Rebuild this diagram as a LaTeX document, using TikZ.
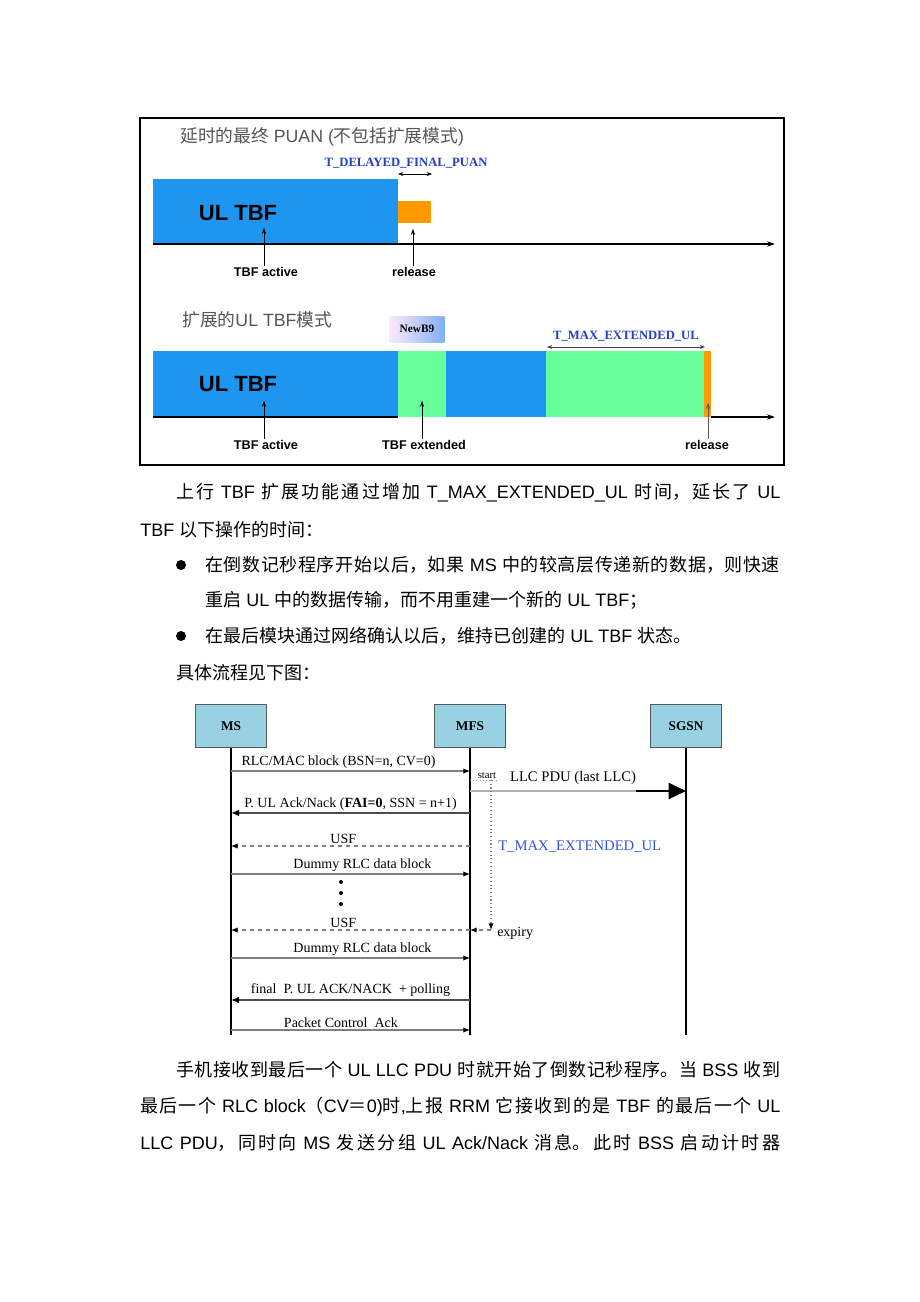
\documentclass[tikz,border=0pt]{standalone}
\usepackage{fontspec}
\setmainfont{Liberation Sans}
\newfontfamily\cjk{Noto Sans CJK SC}
\newfontfamily\rmtimes{Liberation Serif}
\usetikzlibrary{arrows.meta,positioning}

\XeTeXlinebreaklocale "zh"
\XeTeXlinebreakskip=0pt plus 3pt

\definecolor{tbfblue}{RGB}{30,150,240}
\definecolor{extgreen}{RGB}{102,255,153}
\definecolor{relorange}{RGB}{255,153,0}
\definecolor{timerblue}{RGB}{35,65,200}
\definecolor{seqblue}{RGB}{50,85,225}
\definecolor{titlegray}{RGB}{85,85,85}
\definecolor{seqcyan}{RGB}{152,210,226}
\definecolor{tagpink}{RGB}{250,234,250}
\definecolor{tagblue}{RGB}{130,175,245}

\newcommand\fsz[1]{\fontsize{#1}{#1}\selectfont}
\newcommand\fullline[2]{\vbox{\hsize=#1\relax\parindent=0pt\leftskip=0pt\rightskip=0pt
  \parfillskip=0pt\relax\noindent #2\par}}

\begin{document}
\begin{tikzpicture}[x=0.75pt, y=-0.75pt,
  axisline/.style={line width=1.5pt},
  axisarrow/.style={axisline, -{Stealth[length=6pt,width=4pt]}},
  pointer/.style={line width=0.5pt, -{Stealth[length=4.5pt,width=3pt]}},
  timespan/.style={line width=0.6pt, {Stealth[length=4pt,width=3pt]}-{Stealth[length=4pt,width=3pt]}},
  barlabel/.style={font=\bfseries\fsz{9.5}, inner sep=1pt},
  bigtbf/.style={font=\bfseries\fsz{16.5}},
  timerlabel/.style={font=\rmtimes\bfseries\fsz{9.5}, text=timerblue},
  title/.style={font=\fsz{13.3}, text=titlegray, anchor=west, inner sep=0},
  para/.style={anchor=west, inner sep=0, font=\fsz{13.5}},
  seqbox/.style={draw=gray!70!black, fill=seqcyan, minimum width=53pt,
    minimum height=32pt, font=\rmtimes\bfseries\fsz{10}, inner sep=0},
  lifeline/.style={line width=0.8pt},
  msglabel/.style={font=\rmtimes\fsz{10.5}, inner sep=1.5pt},
  msg/.style={draw=gray, line width=0.8pt, -{Latex[length=5pt,width=4pt,color=black]}},
  boldmsg/.style={draw=gray!60!black, line width=1.5pt, -{Latex[length=6pt,width=5pt,color=black]}},
  usfmsg/.style={msg, dashed},
  timer/.style={draw=gray, line width=0.8pt, dotted, -{Latex[length=5pt,width=4pt,color=black]}}]
\useasboundingbox (0,0) rectangle (920,1302);

% Draw frame of the timeline figure
\draw[line width=1.5pt] (140,118) rectangle (784,465);

% Draw delayed final PUAN
\node[title] (puantitle) at (180,137) {{\cjk 延时的最终} PUAN ({\cjk 不包括扩展模式})};
\fill[tbfblue] (153,179) rectangle (398,244);
\fill[relorange] (398,201) rectangle (431,223);
\draw[axisarrow] (153,244) -- (775,244);
\node[bigtbf] (ultbf1) at (238,213) {UL TBF};
\node[timerlabel] (tdelay) at (406,163) {T\_DELAYED\_FINAL\_PUAN};
\draw[timespan] (398,174) -- (432,174);
\node[barlabel] (act1) at (266,272) {TBF active};
\node[barlabel] (rel1) at (414,272) {release};
\draw[pointer] (act1.north -| 264,0) -- ++(0,-38);
\draw[pointer] (rel1.north -| 413,0) -- ++(0,-37);

% Draw extended UL TBF mode
\node[title] (exttitle) at (182,320) {{\cjk 扩展的}UL TBF{\cjk 模式}};
\fill[tbfblue] (153,351) rectangle (398,417);
\fill[extgreen] (398,351) rectangle (446,417);
\fill[tbfblue] (446,351) rectangle (546,417);
\fill[extgreen] (546,351) rectangle (704,417);
\fill[relorange] (704,351) rectangle (711,417);
\draw[axisline] (153,417) -- (398,417);
\draw[axisarrow] (711,417) -- (775,417);
\node[bigtbf] (ultbf2) at (238,384) {UL TBF};
\node[left color=tagpink, right color=tagblue, minimum width=41pt, minimum height=19.5pt,
  font=\rmtimes\bfseries\fsz{8.5}, inner sep=0] (newb9) at (417,329) {NewB9};
\node[timerlabel] (tmax) at (626,336) {T\_MAX\_EXTENDED\_UL};
\draw[timespan, gray!50!black] (547,347) -- (705,347);
\node[barlabel] (act2) at (266,445) {TBF active};
\node[barlabel] (ext2) at (424,445) {TBF extended};
\node[barlabel] (rel2) at (707,445) {release};
\draw[pointer] (act2.north -| 264,0) -- ++(0,-38);
\draw[pointer] (ext2.north -| 422,0) -- ++(0,-38);
\draw[pointer, gray!70!black] (rel2.north -| 708,0) -- ++(0,-36);

% Draw text
\node[para] (p1) at (176,493)
  {\fullline{453pt}{{\cjk 上行} TBF {\cjk 扩展功能通过增加} \mbox{T\_MAX\_EXTENDED\_UL} {\cjk 时间，延长了} UL}};
\node[para] (p2) at (140,530) {TBF {\cjk 以下操作的时间：}};
\fill (181,565) circle (5);
\node[para] (b1) at (205,565)
  {\fullline{431pt}{{\cjk 在倒数记秒程序开始以后，如果} MS {\cjk 中的较高层传递新的数据，则快速}}};
\node[para] (b1b) at (205,600) {{\cjk 重启} UL {\cjk 中的数据传输，而不用重建一个新的} UL TBF{\cjk ；}};
\fill (181,636) circle (5);
\node[para] (b2) at (205,636) {{\cjk 在最后模块通过网络确认以后，维持已创建的} UL TBF {\cjk 状态。}};
\node[para] (p3) at (176,673) {{\cjk 具体流程见下图：}};

% Draw entities and lifelines
\node[seqbox] (ms) at (231,726) {MS};
\node[seqbox] (mfs) at (470,726) {MFS};
\node[seqbox] (sgsn) at (686,726) {SGSN};
\coordinate (bottom) at (0,1035);
\foreach \e in {ms,mfs,sgsn}
  \draw[lifeline] (\e) -- (\e |- bottom);

% Draw messages
\draw[msg] (ms |- 0,771) -- node[msglabel, above, pos=0.45] {RLC/MAC block (BSN=n, CV=0)} (mfs |- 0,771);
\coordinate (tstart) at (491,780);
\coordinate (texp) at (491,930);
\node[font=\rmtimes\fsz{8}, anchor=south, inner sep=1pt] (start) at (487,780) {start};
\draw[gray, dotted] (mfs |- tstart) -- (start.south east);
\coordinate (llcsplit) at (636,791);
\draw[gray!60, line width=0.8pt] (mfs |- llcsplit) -- (llcsplit);
\draw[line width=1.6pt, -{Triangle[length=13pt,width=12pt]}] (llcsplit) -- (sgsn |- llcsplit);
\node[msglabel, font=\rmtimes\fsz{11}, anchor=south] (llc) at (573,787) {LLC PDU (last LLC)};
\draw[timer] (tstart) -- (texp);
\draw[boldmsg] (mfs |- 0,813) -- node[msglabel, above] {P. UL Ack/Nack (\textbf{FAI=0}, SSN = n+1)} (ms |- 0,813);
\draw[usfmsg] (mfs |- 0,846) -- node[msglabel, above, pos=0.53] {USF} (ms |- 0,846);
\node[anchor=west, font=\rmtimes\fsz{11}, text=seqblue, inner sep=0] (tmaxseq) at (498,847) {T\_MAX\_EXTENDED\_UL};
\draw[msg] (ms |- 0,874) -- node[msglabel, above, pos=0.55] {Dummy RLC data block} (mfs |- 0,874);
\foreach \y in {882,893,904}
  \fill (341,\y) circle (2);
\draw[usfmsg] (mfs |- 0,930) -- node[msglabel, above, pos=0.53] {USF} (ms |- 0,930);
\draw[msg, dashed] (texp) -- (mfs |- texp);
\node[msglabel, anchor=west] (expiry) at (495,933) {expiry};
\draw[msg] (ms |- 0,958) -- node[msglabel, above, pos=0.55] {Dummy RLC data block} (mfs |- 0,958);
\draw[boldmsg] (mfs |- 0,1000) -- node[msglabel, above, pos=0.5] {final\ \ P. UL ACK/NACK\ \ + polling} (ms |- 0,1000);
\draw[msg] (ms |- 0,1030) -- node[msglabel, above, pos=0.46] {Packet Control\ \ Ack} (mfs |- 0,1030);

% Draw closing text
\node[para] (q1) at (176,1070)
  {\fullline{453pt}{{\cjk 手机接收到最后一个} UL LLC PDU {\cjk 时就开始了倒数记秒程序。当} BSS {\cjk 收到}}};
\node[para] (q2) at (140,1107)
  {\fullline{480pt}{{\cjk 最后一个} RLC block{\cjk （}CV{\cjk ＝}0){\cjk 时},{\cjk 上报} RRM {\cjk 它接收到的是} TBF {\cjk 的最后一个} UL}};
\node[para] (q3) at (140,1143)
  {\fullline{480pt}{LLC PDU{\cjk ，同时向} MS {\cjk 发送分组} UL \mbox{Ack/Nack} {\cjk 消息。此时} BSS {\cjk 启动计时器}}};
\end{tikzpicture}
\end{document}
